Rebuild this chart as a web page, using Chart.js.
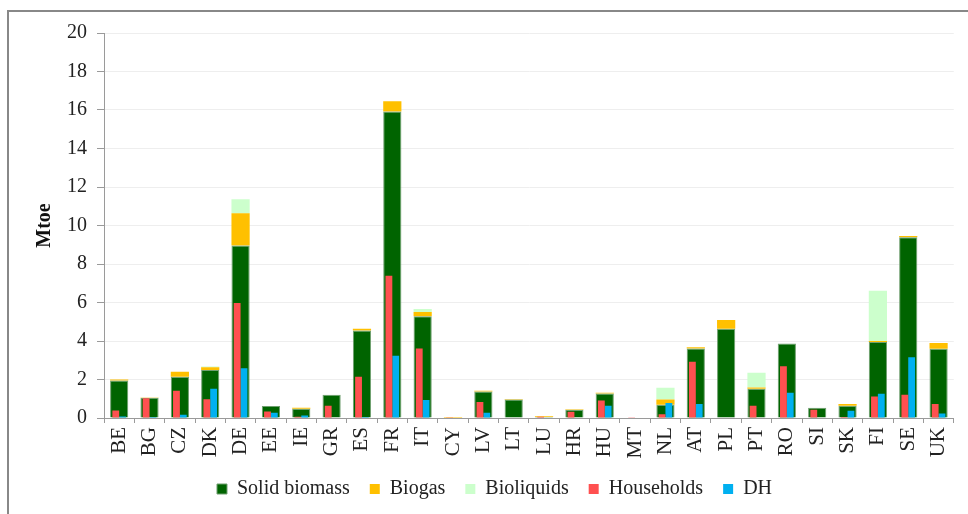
<!DOCTYPE html>
<html lang="en">
<head>
  <meta charset="UTF-8" />
  <title>Bioenergy heat by country</title>
  <script src="https://cdn.jsdelivr.net/npm/chart.js"></script>
  <style>
    body {
      margin: 0;
      background: #fff;
      overflow: hidden;
    }
    .frame {
      position: absolute;
      left: 7px;
      top: 10px;
      width: 2000px;
      height: 2000px;
      border-left: 2px solid #888;
      border-top: 2px solid #888;
    }
    .box {
      position: absolute;
      left: 0;
      top: 0;
      width: 968px;
      height: 514px;
    }
  </style>
</head>
<body>
<div class="frame"></div>
<div class="box"><canvas id="chart-bio"></canvas></div>

<script>
  const countries = ["BE","BG","CZ","DK","DE","EE","IE","GR","ES","FR","IT","CY","LV","LT",
                     "LU","HR","HU","MT","NL","AT","PL","PT","RO","SI","SK","FI","SE","UK"];

  const solidBiomass = [1.95, 1.05, 2.14, 2.49, 8.96, 0.62, 0.48, 1.21, 4.54, 15.92, 5.28, 0.02, 1.38, 0.96,
                        0.05, 0.43, 1.27, 0.00, 0.69, 3.61, 4.64, 1.52, 3.87, 0.53, 0.64, 3.95, 9.39, 3.60];
  const biogas       = [0.05, 0.02, 0.26, 0.15, 1.68, 0.00, 0.05, 0.00, 0.10, 0.54, 0.23, 0.03, 0.03, 0.03,
                        0.04, 0.03, 0.04, 0.02, 0.27, 0.07, 0.45, 0.07, 0.00, 0.00, 0.09, 0.05, 0.06, 0.29];
  const bioliquids   = [0.00, 0.00, 0.00, 0.03, 0.72, 0.00, 0.00, 0.00, 0.00, 0.00, 0.15, 0.00, 0.00, 0.00,
                        0.00, 0.00, 0.00, 0.00, 0.61, 0.00, 0.00, 0.76, 0.00, 0.00, 0.00, 2.61, 0.00, 0.00];
  const households   = [0.39, 1.02, 1.41, 0.97, 5.97, 0.34, 0.07, 0.64, 2.14, 7.39, 3.61, 0.04, 0.83, 0.03,
                        0.06, 0.33, 0.91, 0.01, 0.19, 2.92, 0.03, 0.64, 2.69, 0.43, 0.05, 1.12, 1.21, 0.73];
  const districtHeat = [0.08, 0.05, 0.17, 1.52, 2.59, 0.27, 0.13, 0.00, 0.05, 3.24, 0.93, 0.00, 0.27, 0.03,
                        0.03, 0.03, 0.64, 0.00, 0.78, 0.73, 0.00, 0.00, 1.31, 0.03, 0.38, 1.26, 3.16, 0.24];

  const serif = "'Liberation Serif', 'Times New Roman', serif";
  const axisGrey = "#9a9a9a";
  Chart.defaults.font.family = serif;

  // second bar type so the thin bars get their own grouping inside each category
  class SectorBarController extends Chart.BarController {}
  SectorBarController.id = "sectorBar";
  SectorBarController.defaults = Chart.BarController.defaults;
  Chart.register(SectorBarController);

  // large stacked bar (fuel mix)
  function fuel(label, data, color, border) {
    return {
      label: label,
      data: data,
      backgroundColor: color,
      borderColor: border || color,
      borderWidth: border ? 1 : 0,
      stack: "fuel",
      order: 1,
      barPercentage: 0.6,
      categoryPercentage: 1.0
    };
  }
  // thin bars drawn inside (use by sector)
  function sector(label, data, color, st) {
    return {
      type: "sectorBar",
      label: label,
      data: data,
      backgroundColor: color,
      borderWidth: 0,
      stack: st,
      order: 0,
      barPercentage: 1.0,
      categoryPercentage: 0.45
    };
  }

  const ctx = document.getElementById("chart-bio").getContext("2d");
  new Chart(ctx, {
    type: "bar",
    data: {
      labels: countries,
      datasets: [
        fuel("Solid biomass", solidBiomass, "#006400", "#6f9f6f"),
        fuel("Biogas", biogas, "#FFC000"),
        fuel("Bioliquids", bioliquids, "#CCFFCC"),
        sector("Households", households, "#FF5050", "h"),
        sector("DH", districtHeat, "#00B0F0", "d")
      ]
    },
    options: {
      responsive: true,
      maintainAspectRatio: false,
      animation: false,
      layout: {
        padding: { left: 33, right: 12, top: 33, bottom: 5 }
      },
      plugins: {
        legend: {
          position: "bottom",
          labels: {
            boxWidth: 10,
            boxHeight: 10,
            padding: 20,
            color: "#222",
            font: { family: serif, size: 20 },
            sort: (a, b) => a.datasetIndex - b.datasetIndex
          }
        },
        tooltip: { enabled: false }
      },
      scales: {
        x: {
          stacked: true,
          offset: true,
          afterFit: s => { s.height = 41; },
          grid: {
            offset: true,
            drawOnChartArea: false,
            drawTicks: true,
            tickLength: 5,
            tickColor: axisGrey
          },
          border: { display: true, color: axisGrey },
          ticks: {
            minRotation: 90,
            maxRotation: 90,
            padding: 4,
            color: "#222",
            font: { family: serif, size: 21 }
          }
        },
        y: {
          stacked: true,
          min: 0,
          max: 20,
          afterFit: s => { s.width = 71; },
          grid: {
            color: "#eeeeee",
            tickColor: axisGrey,
            tickLength: 7
          },
          border: { display: true, color: axisGrey },
          ticks: {
            stepSize: 2,
            padding: 10,
            color: "#222",
            font: { family: serif, size: 20 }
          },
          title: {
            display: true,
            text: "Mtoe",
            color: "#111",
            padding: 0,
            font: { family: serif, size: 20, weight: "bold" }
          }
        }
      }
    }
  });
</script>
</body>
</html>
